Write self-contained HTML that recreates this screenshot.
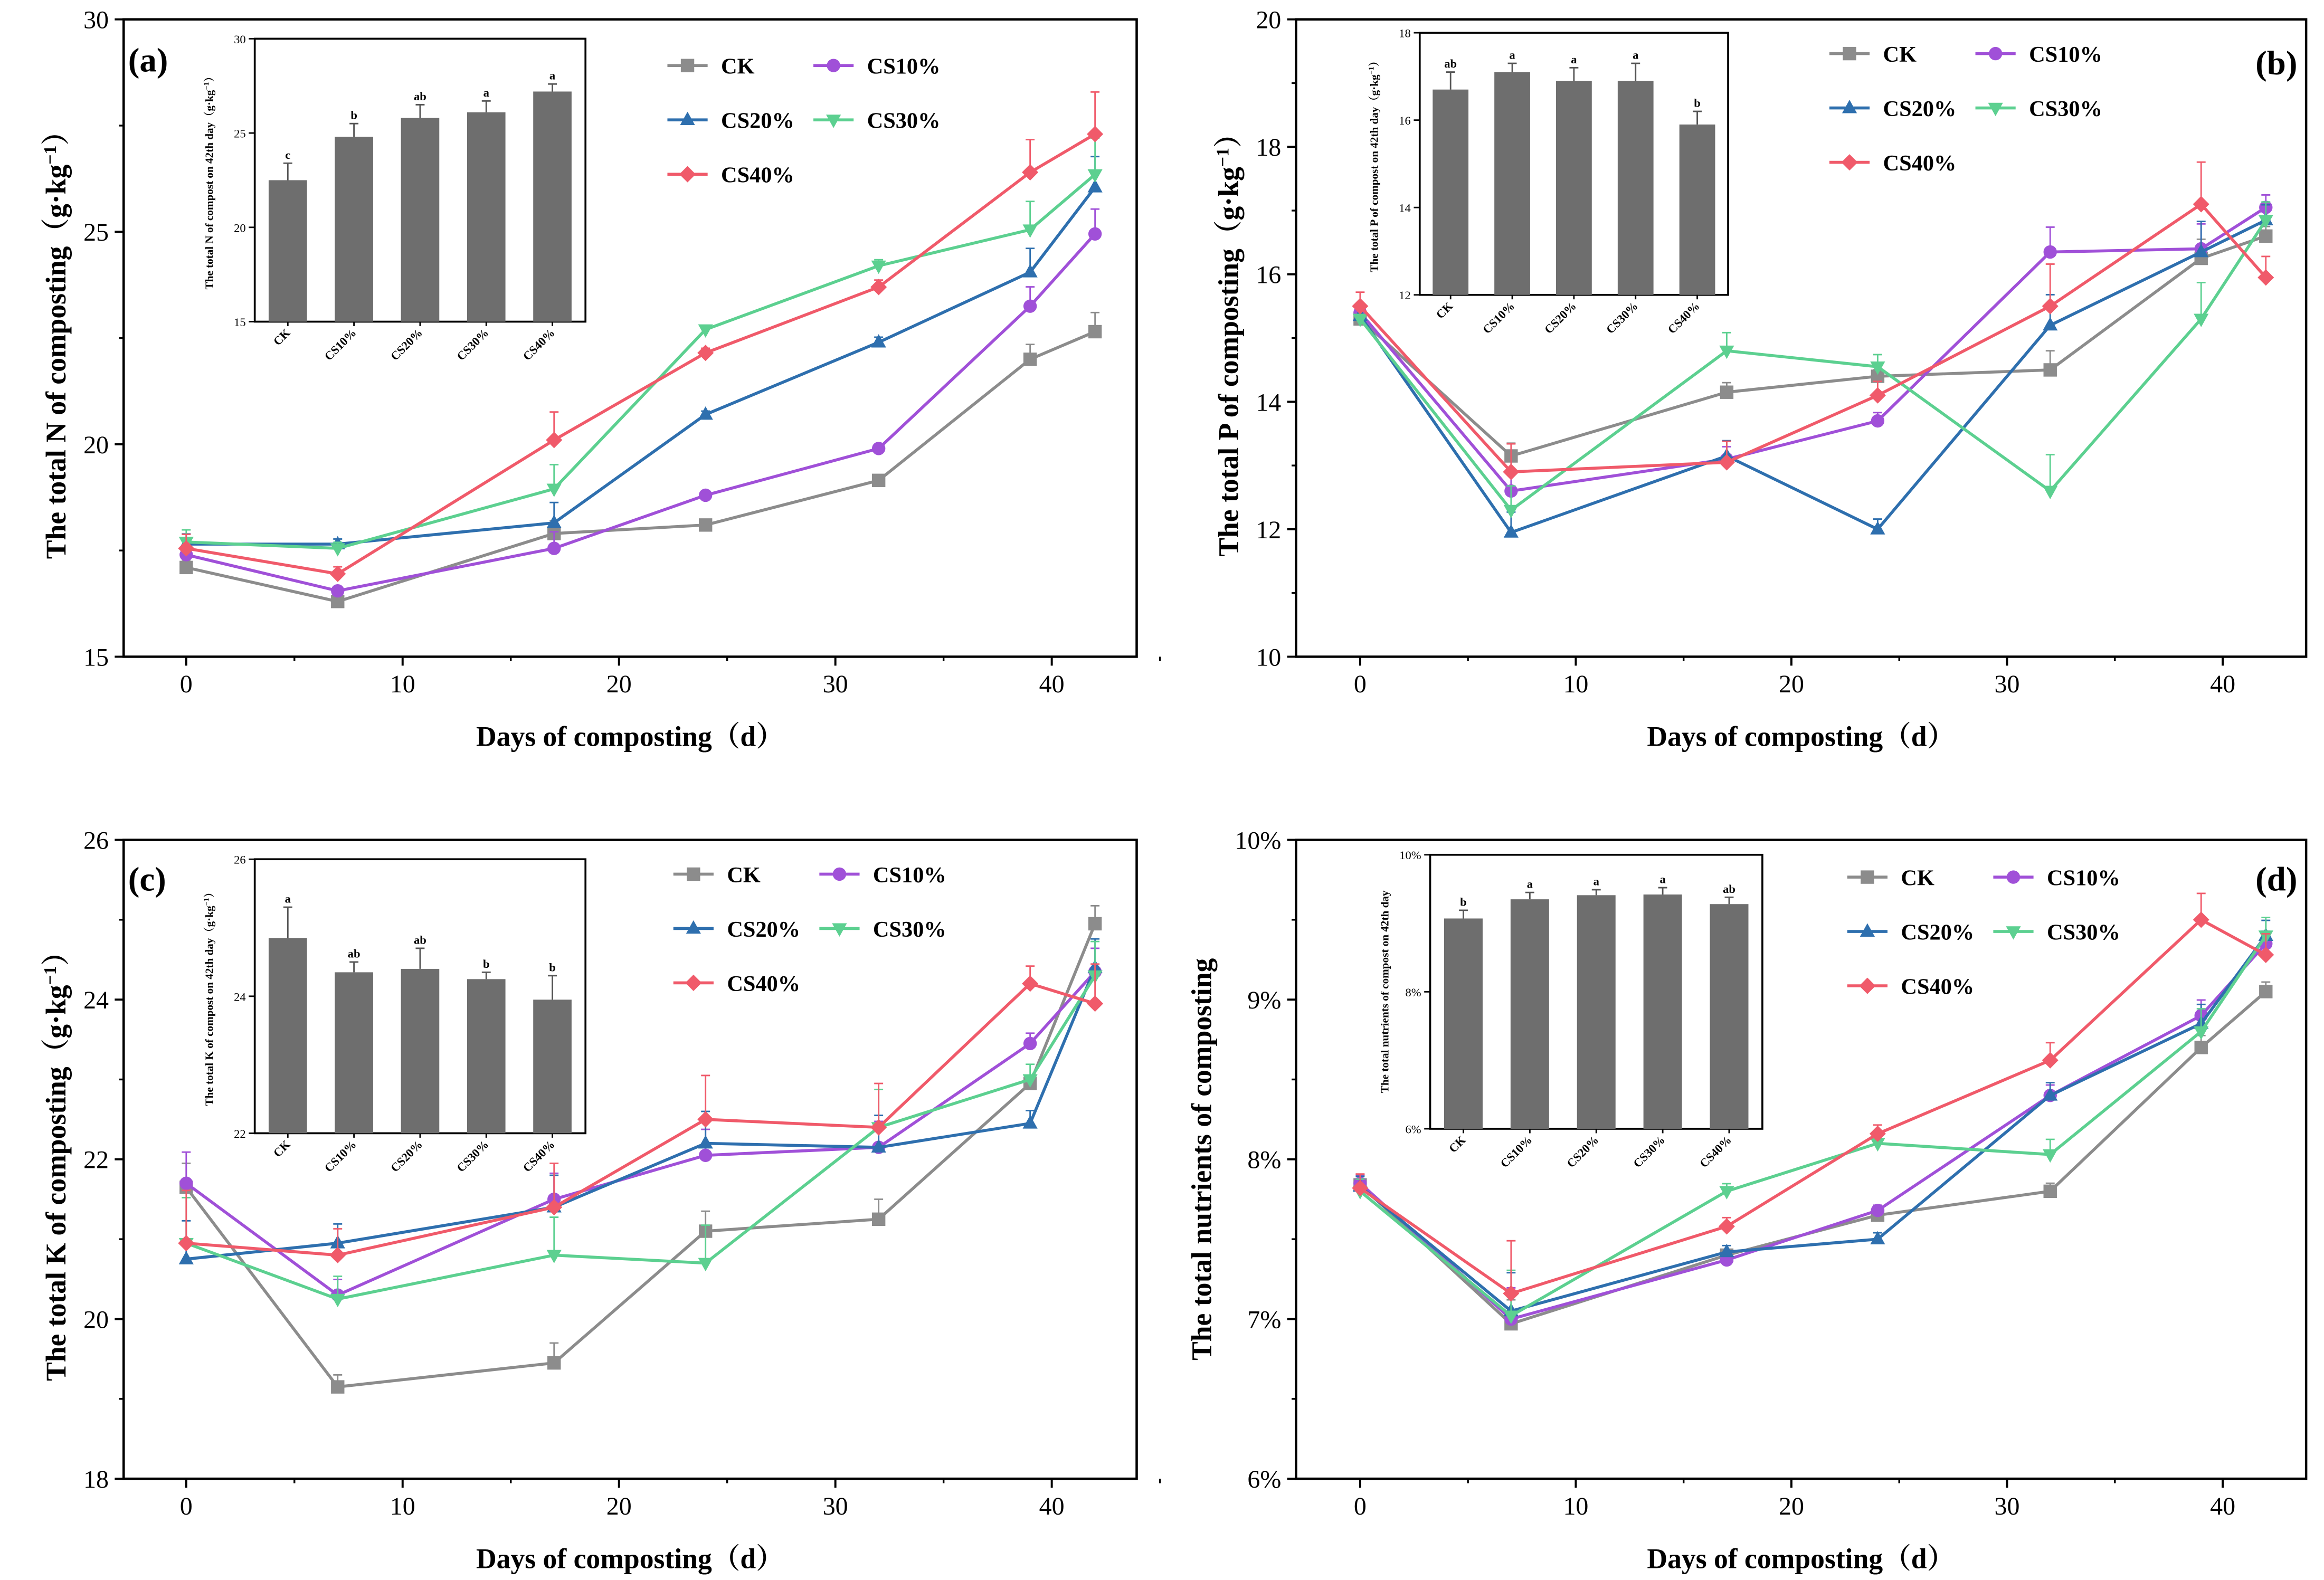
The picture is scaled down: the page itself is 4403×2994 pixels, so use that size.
<!DOCTYPE html>
<html><head><meta charset="utf-8">
<style>
html,body{margin:0;padding:0;background:#fff;}
svg{display:block;}
text{font-family:"Liberation Serif","Noto Serif CJK SC",serif;}
</style></head>
<body>
<svg id="fig" xmlns="http://www.w3.org/2000/svg" width="4403" height="2994" viewBox="0 0 1560 1061" preserveAspectRatio="none"></svg>
<script>
const days = [0, 7, 17, 24, 32, 39, 42];
const seriesNames = ["CK", "CS10%", "CS20%", "CS30%", "CS40%"];
// Panel a: total N
const nCK   = [17.1, 16.3, 17.9, 18.1, 19.15, 22.0, 22.65];
const nCS10 = [17.4, 16.55, 17.55, 18.8, 19.9, 23.25, 24.95];
const nCS20 = [17.65, 17.65, 18.15, 20.7, 22.4, 24.05, 26.05];
const nCS30 = [17.7, 17.55, 18.95, 22.7, 24.2, 25.05, 26.35];
const nCS40 = [17.55, 16.95, 20.1, 22.15, 23.7, 26.4, 27.3];
const nErr  = [0.3, 0.15, 0.6, 0.1, 0.15, 0.7, 0.9];
const nBars = [22.5, 24.8, 25.8, 26.1, 27.2];
const nBarErr = [0.9, 0.7, 0.7, 0.6, 0.4];
const nLetters = ["c", "b", "ab", "a", "a"];
// Panel b: total P
const pCK   = [15.3, 13.15, 14.15, 14.4, 14.5, 16.25, 16.6];
const pCS10 = [15.4, 12.6, 13.1, 13.7, 16.35, 16.4, 17.05];
const pCS20 = [15.35, 11.95, 13.15, 12.0, 15.2, 16.35, 16.85];
const pCS30 = [15.3, 12.3, 14.8, 14.55, 12.6, 15.3, 16.85];
const pCS40 = [15.5, 12.9, 13.05, 14.1, 15.5, 17.1, 15.95];
const pErr  = [0.2, 0.4, 0.3, 0.2, 0.6, 0.6, 0.3];
const pBars = [16.7, 17.1, 16.9, 16.9, 15.9];
const pBarErr = [0.4, 0.2, 0.3, 0.4, 0.3];
const pLetters = ["ab", "a", "a", "a", "b"];
// Panel c: total K
const kCK   = [21.65, 19.15, 19.45, 21.1, 21.25, 22.95, 24.95];
const kCS10 = [21.7, 20.3, 21.5, 22.05, 22.15, 23.45, 24.35];
const kCS20 = [20.75, 20.95, 21.4, 22.2, 22.15, 22.45, 24.4];
const kCS30 = [20.95, 20.25, 20.8, 20.7, 22.4, 23.0, 24.3];
const kCS40 = [20.95, 20.8, 21.4, 22.5, 22.4, 24.2, 23.95];
const kErr  = [0.6, 0.3, 0.5, 0.5, 0.5, 0.2, 0.45];
const kBars = [24.85, 24.35, 24.4, 24.25, 23.95];
const kBarErr = [0.45, 0.15, 0.3, 0.1, 0.35];
const kLetters = ["a", "ab", "ab", "b", "b"];
// Panel d: total nutrients (%)
const tCK   = [7.84, 6.97, 7.4, 7.65, 7.8, 8.7, 9.05];
const tCS10 = [7.85, 7.0, 7.37, 7.68, 8.4, 8.9, 9.35];
const tCS20 = [7.83, 7.05, 7.42, 7.5, 8.4, 8.85, 9.4];
const tCS30 = [7.8, 7.02, 7.8, 8.1, 8.03, 8.8, 9.4];
const tCS40 = [7.82, 7.16, 7.58, 8.16, 8.62, 9.5, 9.28];
const tErr  = [0.08, 0.3, 0.05, 0.05, 0.1, 0.15, 0.12];
const tBars = [9.07, 9.35, 9.41, 9.42, 9.28];
const tBarErr = [0.12, 0.1, 0.08, 0.1, 0.1];
const tLetters = ["b", "a", "a", "a", "ab"];
const xTicks = [0, 10, 20, 30, 40];

const colors = ["#8c8c8c", "#a050d8", "#2e6fae", "#5cd090", "#f05a6a"];
const markers = ["square", "circle", "tri", "tridown", "diamond"];
const svg = document.getElementById('fig');
const NS = "http://www.w3.org/2000/svg";
function el(tag, attrs, parent, text) {
  const e = document.createElementNS(NS, tag);
  for (const k in attrs) e.setAttribute(k, attrs[k]);
  if (text !== undefined) e.textContent = text;
  (parent || svg).appendChild(e);
  return e;
}
function marker(g, type, x, y, c) {
  const s = 4.5;
  let m;
  if (type === "square") m = el('rect', {x: x - s, y: y - s, width: 2 * s, height: 2 * s, fill: c}, g);
  else if (type === "circle") m = el('circle', {cx: x, cy: y, r: s, fill: c}, g);
  else if (type === "tri") m = el('polygon', {points: `${x},${y - s - 1} ${x - s - 0.5},${y + s - 1} ${x + s + 0.5},${y + s - 1}`, fill: c}, g);
  else if (type === "tridown") m = el('polygon', {points: `${x},${y + s + 1} ${x - s - 0.5},${y - s + 1} ${x + s + 0.5},${y - s + 1}`, fill: c}, g);
  else m = el('polygon', {points: `${x},${y - s - 1} ${x + s + 1},${y} ${x},${y + s + 1} ${x - s - 1},${y}`, fill: c}, g);
  
  
}

function panel(cfg) {
  const g = el('g', {});
  
  
  const X = d => cfg.px0 + d * (cfg.px40 - cfg.px0) / 40;
  const Y = v => cfg.y1 - (v - cfg.ymin) / (cfg.ymax - cfg.ymin) * (cfg.y1 - cfg.y0);
  const frame = el('rect', {x: cfg.x0, y: cfg.y0, width: cfg.x1 - cfg.x0, height: cfg.y1 - cfg.y0, fill: 'none', stroke: '#000', 'stroke-width': 1.6}, g);
  
  
  // y ticks
  cfg.yTicks.forEach((v, i) => {
    el('line', {x1: cfg.x0 - 6, x2: cfg.x0, y1: Y(v), y2: Y(v), stroke: '#000', 'stroke-width': 1.4}, g);
    if (i < cfg.yTicks.length - 1) {
      const mv = (v + cfg.yTicks[i + 1]) / 2;
      el('line', {x1: cfg.x0 - 3, x2: cfg.x0, y1: Y(mv), y2: Y(mv), stroke: '#000', 'stroke-width': 1.2}, g);
    }
    const t = el('text', {x: cfg.x0 - 10, y: Y(v) + 6, 'text-anchor': 'end', 'font-size': 17}, g, cfg.yFmt(v));
    
    
  });
  xTicks.forEach(d => {
    el('line', {x1: X(d), x2: X(d), y1: cfg.y1, y2: cfg.y1 + 6, stroke: '#000', 'stroke-width': 1.4}, g);
    el('line', {x1: X(d + 5), x2: X(d + 5), y1: cfg.y1, y2: cfg.y1 + 3, stroke: '#000', 'stroke-width': 1.2}, g);
    const t = el('text', {x: X(d), y: cfg.y1 + 24, 'text-anchor': 'middle', 'font-size': 17}, g, String(d));
    
    
  });
  const xt = el('text', {x: (cfg.x0 + cfg.x1) / 2, y: cfg.y1 + 60, 'text-anchor': 'middle', 'font-size': 19, 'font-weight': 'bold'}, g, "Days of composting（d）");
  
  
  const yc = (cfg.y0 + cfg.y1) / 2;
  const yt = el('text', {x: cfg.ytX, y: yc, 'text-anchor': 'middle', 'font-size': 19, 'font-weight': 'bold', transform: `rotate(-90 ${cfg.ytX} ${yc})`}, g);
  
  
  yt.innerHTML = cfg.ytitle;
  const pl = el('text', {x: cfg.labX, y: cfg.labY, 'font-size': 23, 'font-weight': 'bold'}, g, cfg.label);
  
  
  // series
  cfg.series.forEach((vals, si) => {
    const sg = el('g', {}, g);
    
    
    vals.forEach((v, i) => {
      const e = cfg.err[i] * (0.5 + 0.15 * si);
      const eb = el('path', {d: `M${X(days[i])},${Y(v)}V${Y(v + e)}M${X(days[i]) - 3},${Y(v + e)}h6`, stroke: colors[si], 'stroke-width': 1, fill: 'none'}, sg);
      
      
    });
    const ln = el('polyline', {points: vals.map((v, i) => X(days[i]) + ',' + Y(v)).join(' '), fill: 'none', stroke: colors[si], 'stroke-width': 2}, sg);
    
    
    vals.forEach((v, i) => marker(sg, markers[si], X(days[i]), Y(v), colors[si]));
  });
  // legend
  const lg = el('g', {}, g);
  
  
  seriesNames.forEach((n, si) => {
    const col = si % 2, row = Math.floor(si / 2);
    const lx = cfg.legX + col * cfg.legDX, ly = cfg.legY + row * 36.5;
    const eg = el('g', {}, lg);
    
    
    el('line', {x1: lx, x2: lx + 27, y1: ly, y2: ly, stroke: colors[si], 'stroke-width': 2}, eg);
    marker(eg, markers[si], lx + 13.5, ly, colors[si]);
    el('text', {x: lx + 36, y: ly + 5.5, 'font-size': 15, 'font-weight': 'bold'}, eg, n);
  });
  // inset
  const ig = el('g', {}, g);
  
  
  const I = cfg.inset;
  const IY = v => I.y1 - (v - I.ymin) / (I.ymax - I.ymin) * (I.y1 - I.y0);
  el('rect', {x: I.x0, y: I.y0, width: I.x1 - I.x0, height: I.y1 - I.y0, fill: '#fff', stroke: '#000', 'stroke-width': 1.3}, ig);
  I.ticks.forEach(v => {
    el('line', {x1: I.x0 - 4, x2: I.x0, y1: IY(v), y2: IY(v), stroke: '#000', 'stroke-width': 1}, ig);
    el('text', {x: I.x0 - 6, y: IY(v) + 3, 'text-anchor': 'end', 'font-size': 8}, ig, cfg.yFmt(v));
  });
  const bw = (I.x1 - I.x0) / 5;
  cfg.bars.forEach((v, i) => {
    const cx = I.x0 + bw * (i + 0.5);
    const b = el('rect', {x: cx - bw * 0.29, y: IY(v), width: bw * 0.58, height: I.y1 - IY(v), fill: '#6e6e6e'}, ig);
    
    
    const e = cfg.barErr[i];
    el('path', {d: `M${cx},${IY(v)}V${IY(v + e)}M${cx - 3},${IY(v + e)}h6`, stroke: '#555', 'stroke-width': 1, fill: 'none'}, ig);
    el('text', {x: cx, y: IY(v + e) - 3, 'text-anchor': 'middle', 'font-size': 8, 'font-weight': 'bold'}, ig, cfg.letters[i]);
    el('line', {x1: cx, x2: cx, y1: I.y1, y2: I.y1 + 3, stroke: '#000'}, ig);
    el('text', {x: cx + 2, y: I.y1 + 8, 'text-anchor': 'end', 'font-size': 8, 'font-weight': 'bold', transform: `rotate(-45 ${cx + 2} ${I.y1 + 8})`}, ig, seriesNames[i]);
  });
  const iyc = (I.y0 + I.y1) / 2, iyx = I.x0 - 28;
  el('text', {x: iyx, y: iyc, 'text-anchor': 'middle', 'font-size': 7.5, 'font-weight': 'bold', transform: `rotate(-90 ${iyx} ${iyc})`}, ig).innerHTML = I.title;
}

const unitG = '（g·kg<tspan baseline-shift="super" font-size="12">−1</tspan>）';
const unitS = '（g·kg<tspan baseline-shift="super" font-size="5">−1</tspan>）';
const num = v => String(v);
const pct = v => v + '%';
panel({name: 'panel-a-total-n', x0: 83, x1: 763, y0: 13, y1: 441, px0: 125, px40: 706, ymin: 15, ymax: 30, yTicks: [15, 20, 25, 30], yFmt: num,
  ytitle: 'The total N of composting' + unitG, ytX: 44, label: '(a)', labX: 86, labY: 48,
  series: [nCK, nCS10, nCS20, nCS30, nCS40], err: nErr, legX: 448, legY: 44, legDX: 98,
  bars: nBars, barErr: nBarErr, letters: nLetters,
  inset: {x0: 171, x1: 393, y0: 26, y1: 216, ymin: 15, ymax: 30, ticks: [15, 20, 25, 30], title: 'The total N of compost on 42th day' + unitS}});
panel({name: 'panel-b-total-p', x0: 870, x1: 1548, y0: 13, y1: 441, px0: 913, px40: 1492, ymin: 10, ymax: 20, yTicks: [10, 12, 14, 16, 18, 20], yFmt: num,
  ytitle: 'The total P of composting' + unitG, ytX: 831, label: '(b)', labX: 1514, labY: 50,
  series: [pCK, pCS10, pCS20, pCS30, pCS40], err: pErr, legX: 1228, legY: 36, legDX: 98,
  bars: pBars, barErr: pBarErr, letters: pLetters,
  inset: {x0: 953, x1: 1160, y0: 22, y1: 198, ymin: 12, ymax: 18, ticks: [12, 14, 16, 18], title: 'The total P of compost on 42th day' + unitS}});
panel({name: 'panel-c-total-k', x0: 83, x1: 763, y0: 564, y1: 993, px0: 125, px40: 706, ymin: 18, ymax: 26, yTicks: [18, 20, 22, 24, 26], yFmt: num,
  ytitle: 'The total K of composting' + unitG, ytX: 44, label: '(c)', labX: 86, labY: 598,
  series: [kCK, kCS10, kCS20, kCS30, kCS40], err: kErr, legX: 452, legY: 587, legDX: 98,
  bars: kBars, barErr: kBarErr, letters: kLetters,
  inset: {x0: 171, x1: 393, y0: 577, y1: 761, ymin: 22, ymax: 26, ticks: [22, 24, 26], title: 'The total K of compost on 42th day' + unitS}});
panel({name: 'panel-d-total-nutrients', x0: 870, x1: 1548, y0: 564, y1: 993, px0: 913, px40: 1492, ymin: 6, ymax: 10, yTicks: [6, 7, 8, 9, 10], yFmt: pct,
  ytitle: 'The total nutrients of composting', ytX: 813, label: '(d)', labX: 1514, labY: 598,
  series: [tCK, tCS10, tCS20, tCS30, tCS40], err: tErr, legX: 1240, legY: 589, legDX: 98,
  bars: tBars, barErr: tBarErr, letters: tLetters,
  inset: {x0: 960, x1: 1183, y0: 574, y1: 758, ymin: 6, ymax: 10, ticks: [6, 8, 10], title: 'The total nutrients of compost on 42th day'}});
</script>
</body></html>
